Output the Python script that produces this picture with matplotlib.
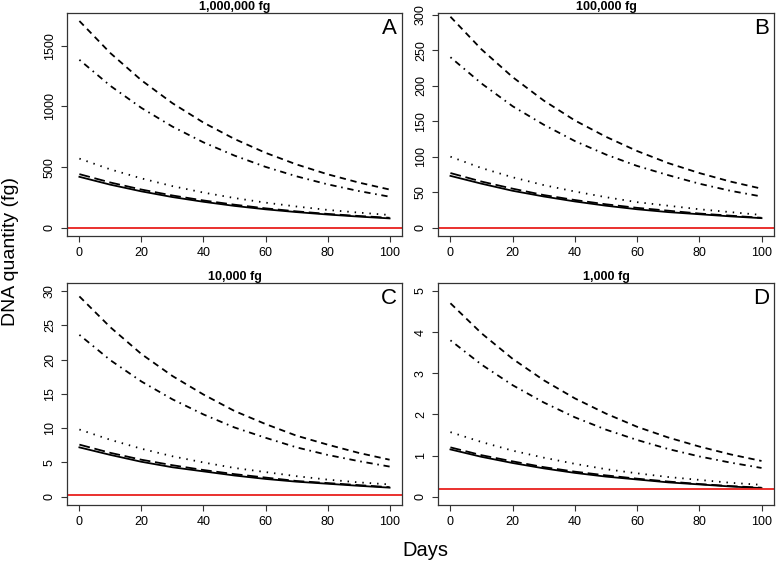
import matplotlib.pyplot as plt

plt.rcParams['font.family'] = ['Liberation Sans', 'DejaVu Sans']

days = [0, 10, 20, 30, 40, 50, 60, 70, 80, 90, 100]

titles = ["1,000,000 fg", "100,000 fg", "10,000 fg", "1,000 fg"]
letters = ["A", "B", "C", "D"]
threshold = 0.2

# DNA quantity (fg), every 10 days
a_dashed = [1705, 1440, 1216, 1027, 867, 732, 618, 522, 441, 373, 315]
a_dashdot = [1385, 1170, 988, 834, 704, 595, 502, 424, 358, 303, 256]
a_dotted = [570, 481, 407, 343, 290, 245, 207, 175, 147, 125, 105]
a_longdash = [442, 373, 315, 266, 225, 190, 160, 135, 114, 97, 82]
a_solid = [420, 355, 300, 253, 214, 180, 152, 129, 109, 92, 77]

b_dashed = [297, 251, 212, 179, 151, 128, 108, 91, 77, 65, 55]
b_dashdot = [240, 203, 171, 145, 122, 103, 87, 74, 62, 52, 44]
b_dotted = [100, 84, 71, 60, 51, 43, 36, 31, 26, 22, 18]
b_longdash = [77, 65, 55, 46, 39, 33, 28, 24, 20, 17, 14]
b_solid = [73, 62, 52, 44, 37, 31, 26, 22, 19, 16, 13.5]

c_dashed = [29.2, 24.7, 20.8, 17.6, 14.9, 12.5, 10.6, 8.9, 7.6, 6.4, 5.4]
c_dashdot = [23.6, 19.9, 16.8, 14.2, 12.0, 10.1, 8.6, 7.2, 6.1, 5.2, 4.4]
c_dotted = [9.8, 8.3, 7.0, 5.9, 5.0, 4.2, 3.6, 3.0, 2.5, 2.1, 1.8]
c_longdash = [7.6, 6.4, 5.4, 4.6, 3.9, 3.3, 2.8, 2.3, 2.0, 1.7, 1.4]
c_solid = [7.2, 6.1, 5.1, 4.3, 3.7, 3.1, 2.6, 2.2, 1.9, 1.6, 1.33]

d_dashed = [4.70, 3.97, 3.35, 2.83, 2.39, 2.02, 1.70, 1.44, 1.22, 1.03, 0.87]
d_dashdot = [3.80, 3.21, 2.71, 2.29, 1.93, 1.63, 1.38, 1.16, 0.98, 0.83, 0.70]
d_dotted = [1.57, 1.33, 1.12, 0.95, 0.80, 0.67, 0.57, 0.48, 0.41, 0.34, 0.29]
d_longdash = [1.20, 1.01, 0.86, 0.72, 0.61, 0.52, 0.44, 0.37, 0.31, 0.26, 0.22]
d_solid = [1.15, 0.97, 0.82, 0.69, 0.58, 0.49, 0.42, 0.35, 0.30, 0.25, 0.21]

panels = [
    [a_dashed, a_dashdot, a_dotted, a_longdash, a_solid],
    [b_dashed, b_dashdot, b_dotted, b_longdash, b_solid],
    [c_dashed, c_dashdot, c_dotted, c_longdash, c_solid],
    [d_dashed, d_dashdot, d_dotted, d_longdash, d_solid],
]
y_tops = [1705, 291, 30, 5]
y_ticks = [[0, 500, 1000, 1500], [0, 50, 100, 150, 200, 250, 300],
           [0, 5, 10, 15, 20, 25, 30], [0, 1, 2, 3, 4, 5]]

# R-style line types: lty 2, 4, 3, 5, 1
styles = [(0, (3.5, 2.6)), (0, (0.9, 2.6, 3.5, 2.6)), (0, (0.8, 3.3)),
          (0, (6, 2.6)), '-']

fig = plt.figure(figsize=(7.77, 5.63), dpi=100)

# axes boxes in figure fractions: [left, bottom, width, height]
boxes = [[0.0862, 0.5808, 0.4312, 0.3966], [0.5637, 0.5808, 0.4324, 0.3966],
         [0.0862, 0.1030, 0.4312, 0.3949], [0.5637, 0.1030, 0.4324, 0.3949]]

for i in range(4):
    ax = fig.add_axes(boxes[i])
    for series, ls in zip(panels[i], styles):
        ax.plot(days, series, color='black', linestyle=ls, linewidth=1.3)
    ax.axhline(threshold, color='#e8201c', linewidth=1.3)

    top = y_tops[i]
    ax.set_xlim(-4, 104)
    ax.set_ylim(-0.04 * top, 1.04 * top)
    ax.set_xticks([0, 20, 40, 60, 80, 100])
    ax.set_yticks(y_ticks[i])
    for lbl in ax.get_yticklabels():
        lbl.set_rotation(90)
        lbl.set_va('center')
    ax.tick_params(labelsize=9, length=4, width=0.8, pad=4, color='#333333')
    for sp in ax.spines.values():
        sp.set_color('#333333')
        sp.set_linewidth(0.9)

    ax.set_title(titles[i], fontsize=9, fontweight='bold', pad=0.5)
    ax.text(0.985, 0.975, letters[i], transform=ax.transAxes, fontsize=16,
            ha='right', va='top')

fig.text(0.014, 0.553, "DNA quantity (fg)", rotation=90, fontsize=14,
         ha='center', va='center')
fig.text(0.547, 0.023, "Days", fontsize=14.5, ha='center', va='center')

fig.savefig("out.png", dpi=100)
